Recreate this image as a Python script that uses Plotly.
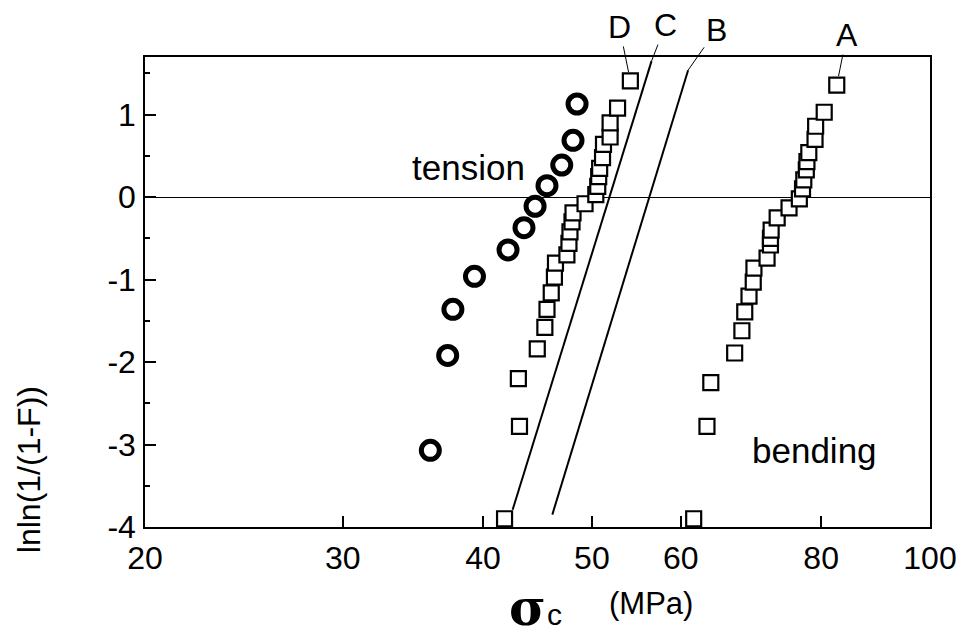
import math
import plotly.graph_objects as go

# ---- data ----
tension_x = [35.9, 37.2, 37.6, 39.3, 42.1, 43.5, 44.5, 45.6, 47.0, 48.1, 48.5]
tension_y = [-3.07, -1.92, -1.36, -0.96, -0.64, -0.37, -0.11, 0.14, 0.39, 0.69, 1.13]

D_x = [41.8, 43.1, 43.0, 44.7, 45.4, 45.6, 46.0, 46.3, 46.4, 47.5, 47.7, 47.8, 48.0,
       48.1, 49.3, 50.4, 50.6, 50.7, 50.8, 51.1, 51.2, 51.9, 51.9, 52.7, 54.1]
D_y = [-3.90, -2.78, -2.20, -1.84, -1.58, -1.36, -1.16, -0.97, -0.80, -0.70, -0.56, -0.42, -0.30,
       -0.19, -0.08, 0.03, 0.13, 0.25, 0.35, 0.48, 0.64, 0.73, 0.90, 1.08, 1.41]

A_x = [61.6, 63.3, 63.8, 67.0, 68.0, 68.4, 69.0, 69.6, 69.7, 71.6, 72.1, 72.1, 72.2,
       73.1, 74.9, 76.5, 77.0, 77.2, 77.6, 77.7, 78.0, 79.0, 79.1, 80.5, 82.6]
A_y = [-3.90, -2.78, -2.25, -1.89, -1.62, -1.39, -1.20, -1.03, -0.86, -0.74, -0.58, -0.50, -0.40,
       -0.25, -0.13, -0.02, 0.10, 0.21, 0.33, 0.43, 0.54, 0.70, 0.86, 1.03, 1.36]

C_x = [42.5, 56.5]
C_y = [-3.79, 1.65]
B_x = [46.1, 60.9]
B_y = [-3.85, 1.54]

x_ticks = [20, 30, 40, 50, 60, 80, 100]
y_ticks = [-4, -3, -2, -1, 0, 1]
y_minor = [-3.5, -2.5, -1.5, -0.5, 0.5, 1.5]

FONT = "Liberation Sans, Arial, sans-serif"

fig = go.Figure()

fig.add_trace(go.Scatter(x=C_x, y=C_y, mode="lines", line=dict(color="black", width=2),
                         showlegend=False, hoverinfo="skip"))
fig.add_trace(go.Scatter(x=B_x, y=B_y, mode="lines", line=dict(color="black", width=2),
                         showlegend=False, hoverinfo="skip"))
fig.add_trace(go.Scatter(x=tension_x, y=tension_y, mode="markers",
                         marker=dict(symbol="circle", size=18, color="white",
                                     line=dict(color="black", width=5)),
                         showlegend=False))
fig.add_trace(go.Scatter(x=D_x, y=D_y, mode="markers",
                         marker=dict(symbol="square", size=15, color="white",
                                     line=dict(color="black", width=2.2)),
                         showlegend=False))
fig.add_trace(go.Scatter(x=A_x, y=A_y, mode="markers",
                         marker=dict(symbol="square", size=15, color="white",
                                     line=dict(color="black", width=2.2)),
                         showlegend=False))

lab_font = dict(family=FONT, size=32, color="black")
ann = []
# callout labels
ann.append(dict(x=math.log10(A_x[-1]), y=A_y[-1], text="A", showarrow=True, arrowhead=0,
                arrowwidth=1, arrowcolor="black", ax=10, ay=-50, standoff=9, font=lab_font))
ann.append(dict(x=math.log10(D_x[-1]), y=D_y[-1], text="D", showarrow=True, arrowhead=0,
                arrowwidth=1, arrowcolor="black", ax=-11, ay=-54, standoff=9, font=lab_font))
ann.append(dict(x=math.log10(C_x[-1]), y=C_y[-1], text="C", showarrow=True, arrowhead=0,
                arrowwidth=1, arrowcolor="black", ax=14, ay=-36, standoff=0, font=lab_font))
ann.append(dict(x=math.log10(B_x[-1]), y=B_y[-1], text="B", showarrow=True, arrowhead=0,
                arrowwidth=1, arrowcolor="black", ax=28, ay=-40, standoff=0, font=lab_font))
# text labels
ann.append(dict(x=math.log10(38.8), y=0.36, text="tension", showarrow=False,
                font=dict(family=FONT, size=35, color="black")))
ann.append(dict(x=math.log10(78.9), y=-3.07, text="bending", showarrow=False,
                font=dict(family=FONT, size=35, color="black")))
# axis titles
ann.append(dict(xref="paper", yref="paper", x=(28 - 145) / 793, y=(527 - 470) / 470,
                xanchor="center", yanchor="middle",
                text="lnln(1/(1-F))", textangle=-90, showarrow=False,
                font=dict(family=FONT, size=32, color="black")))
ann.append(dict(xref="paper", yref="paper", x=(531 - 145) / 793, y=(527 - 607) / 470,
                xanchor="center", yanchor="middle",
                text="<b>σ</b>", showarrow=False,
                font=dict(family="DejaVu Serif, serif", size=50, color="black")))
ann.append(dict(xref="paper", yref="paper", x=(559 - 145) / 793, y=(527 - 614) / 470,
                xanchor="center", yanchor="middle",
                text="c", showarrow=False,
                font=dict(family=FONT, size=30, color="black")))
ann.append(dict(xref="paper", yref="paper", x=(656 - 145) / 793, y=(527 - 603) / 470,
                xanchor="center", yanchor="middle",
                text="(MPa)", showarrow=False,
                font=dict(family=FONT, size=31, color="black")))

fig.update_layout(
    width=969, height=637,
    margin=dict(l=145, r=31, t=57, b=110),
    paper_bgcolor="white", plot_bgcolor="white",
    font=dict(family=FONT, color="black"),
    annotations=ann,
    xaxis=dict(type="log", range=[math.log10(20), 2], tickvals=x_ticks,
               ticktext=[str(v) for v in x_ticks],
               ticks="inside", ticklen=11, tickwidth=2, tickcolor="black",
               showline=True, linecolor="black", linewidth=1.5, mirror=True,
               showgrid=False, zeroline=False,
               tickfont=dict(family=FONT, size=32, color="black"), ticklabelstandoff=2),
    yaxis=dict(range=[-4, 1.7], tickvals=y_ticks, ticktext=[str(v) for v in y_ticks],
               ticks="inside", ticklen=11, tickwidth=2, tickcolor="black",
               minor=dict(tickvals=y_minor, ticks="inside", ticklen=5, tickwidth=1.5,
                          tickcolor="black", showgrid=False),
               showline=True, linecolor="black", linewidth=1.5, mirror=True,
               showgrid=False, zeroline=True, zerolinecolor="black", zerolinewidth=1,
               tickfont=dict(family=FONT, size=32, color="black"), ticklabelstandoff=1),
)

fig.write_html("out.html")
